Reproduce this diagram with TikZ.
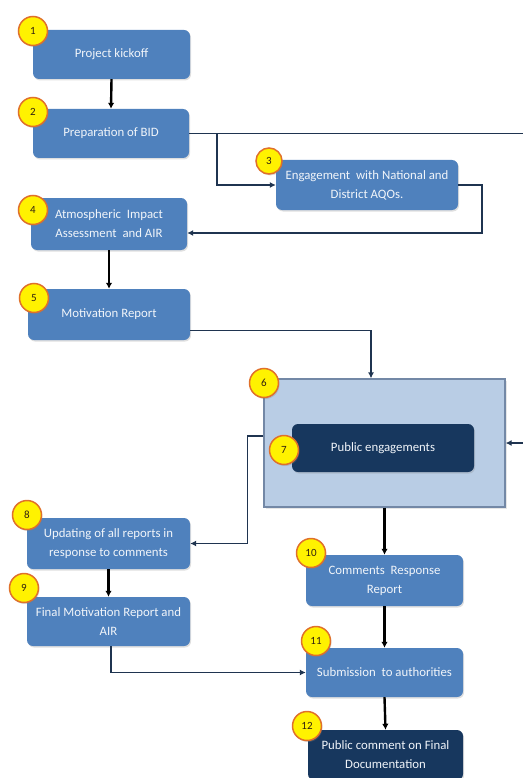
\documentclass[tikz,border=0pt]{standalone}
\usepackage{fontspec}
\setmainfont{Carlito}
\usetikzlibrary{arrows.meta,shadows}

\definecolor{boxblue}{HTML}{4F81BD}
\definecolor{navy}{HTML}{17375E}
\definecolor{paleblue}{HTML}{B9CDE5}
\definecolor{paleedge}{HTML}{7388A6}
\definecolor{linenavy}{HTML}{1F3450}
\definecolor{badgeedge}{HTML}{E0702A}

\begin{document}
\begin{tikzpicture}[x=1pt,y=-1pt,
	box/.style={fill=boxblue,rounded corners=6pt,text=white!92!boxblue,align=center,
		inner sep=0pt,font=\fontsize{12.8}{19}\selectfont,
		drop shadow={opacity=0.25,shadow xshift=1pt,shadow yshift=-1.5pt}},
	darkbox/.style={box,fill=navy},
	panel/.style={draw=paleedge,fill=paleblue,line width=1.2pt,
		drop shadow={opacity=0.2,shadow xshift=1.5pt,shadow yshift=-1.5pt}},
	badge/.style={circle,fill=yellow,draw=badgeedge,line width=1.5pt,minimum size=29pt,
		inner sep=0pt,font=\fontsize{11}{11}\selectfont,text=black!75!brown,
		drop shadow={opacity=0.3,shadow xshift=1pt,shadow yshift=-1.5pt}},
	conn/.style={draw=linenavy,line width=1.8pt,-{Latex[length=6pt,width=6pt]}},
	flow/.style={draw=black,line width=2.4pt,-{Latex[length=6pt,width=6.5pt]}}]

	\useasboundingbox (0,0) rectangle (522,778);

	\coordinate (rimA) at (530,134);
	\coordinate (rimB) at (530,443);
	\coordinate (split) at (217,134);

	\node[panel,minimum width=241pt,minimum height=128pt] (pub) at (384.5,443) {};

	\node[box,minimum width=157pt,minimum height=49pt] (kick) at (111.5,54.5) {Project kickoff};
	\node[box,minimum width=156pt,minimum height=49pt] (prep) at (111,133.5) {Preparation of BID};
	\node[box,minimum width=182pt,minimum height=50pt] (eng) at (367,185) {Engagement\ \ with National and\\District AQOs.};
	\node[box,minimum width=156pt,minimum height=52pt] (atm) at (109,224) {Atmospheric\ \ Impact\\Assessment\ \ and AIR};
	\node[box,minimum width=162pt,minimum height=51pt] (mot) at (109,314.5) {Motivation Report};
	\node[darkbox,minimum width=182pt,minimum height=48pt] (peng) at (383,448) {Public engagements};
	\node[box,minimum width=163pt,minimum height=51pt] (upd) at (108.5,543.5) {Updating of all reports in\\response to comments};
	\node[box,minimum width=163pt,minimum height=49pt] (fin) at (108.5,621.5) {Final Motivation Report and\\AIR};
	\node[box,minimum width=157pt,minimum height=51pt] (resp) at (384.5,580.5) {Comments\ \ Response\\Report};
	\node[box,minimum width=157pt,minimum height=49pt] (sub) at (384.5,672.5) {Submission\ \ to authorities};
	\node[darkbox,minimum width=155pt,minimum height=50pt] (final) at (385.5,755) {Public comment on Final\\Documentation};

	\draw[flow] (kick.south) -- (prep.north);
	\draw[flow] (atm.south) -- (mot.north);
	\draw[flow] (upd.south) -- (fin.north);
	\draw[flow] (pub.south) -- (resp.north);
	\draw[flow] (resp.south) -- (sub.north);
	\draw[flow] (sub.south) -- (final.north);

	\draw[conn,-] (prep.east) -- (prep.east -| rimA);
	\draw[conn] (split) |- (eng.west);
	\draw[conn] (eng.east) -- ++(24,0) |- ([yshift=-9pt]atm.east);
	\draw[conn] ([yshift=-16pt]mot.east) -| ([xshift=-13.5pt]pub.north);
	\draw[conn] (rimB) -- (pub.east);
	\draw[conn] ([yshift=7pt]pub.west) -- ++(-16,0) |- (upd.east);
	\draw[conn] ([xshift=2.5pt]fin.south) |- (sub.west);

	\node[badge] (n1) at (33,31) {1};
	\node[badge] (n2) at (33,112) {2};
	\node[badge,minimum size=26pt] (n3) at (269,161) {3};
	\node[badge] (n4) at (33,210) {4};
	\node[badge] (n5) at (34,298) {5};
	\node[badge] (n6) at (264,383) {6};
	\node[badge] (n7) at (284,450) {7};
	\node[badge] (n8) at (27,515) {8};
	\node[badge] (n9) at (24,588) {9};
	\node[badge] (n10) at (311,553) {10};
	\node[badge] (n11) at (316,641) {11};
	\node[badge] (n12) at (307,726) {12};

\end{tikzpicture}
\end{document}
